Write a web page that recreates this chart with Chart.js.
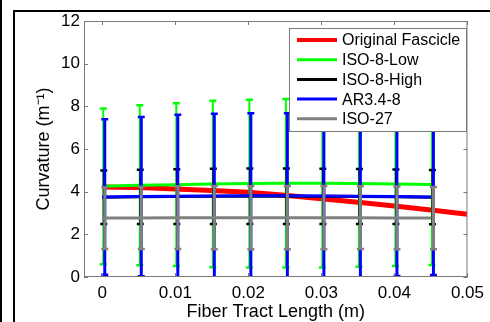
<!DOCTYPE html>
<html>
<head>
<meta charset="utf-8">
<script src="https://cdn.jsdelivr.net/npm/chart.js@4.4.0/dist/chart.umd.min.js"></script>
<style>
  html, body { margin: 0; padding: 0; background: #fff; }
  #wrap { width: 490px; height: 322px; }
</style>
</head>
<body>
<div id="wrap"><canvas id="c" width="490" height="322"></canvas></div>
<script>

// sample positions along the tract (m)
const tractX = [0, 0.005, 0.01, 0.015, 0.02, 0.025, 0.03, 0.035, 0.04, 0.045];

// original fascicle curvature (no error bars)
const fascicleX = [0, 0.005, 0.01, 0.015, 0.02, 0.025, 0.03, 0.035, 0.04, 0.045, 0.05];
const fascicleY = [4.22, 4.19, 4.13, 4.06, 3.97, 3.83, 3.67, 3.5, 3.33, 3.14, 2.94];

// mean +- error for each simulated tract
const isoLowMean  = [4.25, 4.3, 4.33, 4.36, 4.38, 4.39, 4.39, 4.38, 4.36, 4.34];
const isoLowErr   = [3.65, 3.75, 3.82, 3.9, 3.93, 3.95, 3.94, 3.9, 3.84, 3.78];
const isoHighMean = [3.74, 3.76, 3.77, 3.78, 3.79, 3.79, 3.78, 3.77, 3.76, 3.74];
const isoHighErr  = [1.25, 1.27, 1.28, 1.29, 1.3, 1.3, 1.3, 1.29, 1.28, 1.27];
const arMean      = [3.75, 3.77, 3.79, 3.8, 3.81, 3.81, 3.8, 3.79, 3.77, 3.75];
const arErr       = [3.65, 3.73, 3.81, 3.85, 3.87, 3.86, 3.85, 3.82, 3.72, 3.66];
const iso27Mean   = [2.76, 2.77, 2.78, 2.78, 2.78, 2.78, 2.78, 2.78, 2.77, 2.76];
const iso27Err    = [1.45, 1.46, 1.47, 1.48, 1.48, 1.48, 1.48, 1.47, 1.47, 1.46];

const seriesNames = ['Original Fascicle', 'ISO-8-Low', 'ISO-8-High', 'AR3.4-8', 'ISO-27'];

// axes
const xTicks = [0, 0.01, 0.02, 0.03, 0.04, 0.05];
const xTickLabels = ['0', '0.01', '0.02', '0.03', '0.04', '0.05'];
const yTicks = [0, 2, 4, 6, 8, 10, 12];

const pts = (xs, ys) => xs.map((x, i) => ({ x: x, y: ys[i] }));

Chart.defaults.font.family = "'Liberation Sans', Arial, sans-serif";
Chart.defaults.color = '#000';

// draws vertical error bars right after their own dataset, so stacking follows the series order
const errorBars = {
    id: 'errorBars',
    afterDatasetDraw (chart, args) {
        const ds = chart.data.datasets[args.index];
        if (!ds.errors) return;
        const ctx = chart.ctx;
        const sx = chart.scales.x, sy = chart.scales.y;
        const ca = chart.chartArea;
        ctx.save();
        ctx.beginPath();
        ctx.rect(ca.left, ca.top, ca.right - ca.left, ca.bottom - ca.top);
        ctx.clip();
        ctx.strokeStyle = ds.borderColor;
        const caps = [];
        ctx.lineWidth = ds.stemWidth;
        ds.data.forEach((p, i) => {
            const px = sx.getPixelForValue(p.x) + ds.stemShift;
            const top = sy.getPixelForValue(p.y + ds.errors[i]);
            const bot = sy.getPixelForValue(p.y - ds.errors[i]);
            ctx.beginPath();
            ctx.moveTo(px, top);
            ctx.lineTo(px, bot);
            ctx.stroke();
            caps.push([px, top], [px, bot]);
        });
        ctx.lineWidth = 2.5;
        for (const [px, py] of caps) {
            ctx.beginPath();
            ctx.moveTo(px - ds.capHalf, py);
            ctx.lineTo(px + ds.capHalf, py);
            ctx.stroke();
        }
        ctx.restore();
    }
};

// figure frame, axes box with inward ticks, and the boxed legend
const frame = {
    id: 'frame',
    beforeDraw (chart) {
        const ctx = chart.ctx;
        ctx.save();
        ctx.fillStyle = '#fff';
        ctx.fillRect(0, 0, chart.width, chart.height);
        ctx.fillStyle = '#000';
        ctx.fillRect(0, 0, 2, chart.height);
        ctx.fillRect(13, 10, 2, chart.height - 10);
        ctx.fillRect(13, 10, chart.width - 13, 2);
        ctx.restore();
    },
    afterDraw (chart) {
        const ctx = chart.ctx;
        const ca = chart.chartArea;
        const sx = chart.scales.x, sy = chart.scales.y;
        ctx.save();
        ctx.strokeStyle = '#7a7a7a';
        ctx.lineWidth = 1;
        ctx.strokeRect(ca.left + 0.5, ca.top + 0.5, ca.right - ca.left - 1, ca.bottom - ca.top - 1);
        ctx.beginPath();
        for (const v of xTicks) {
            const px = Math.round(sx.getPixelForValue(v)) + 0.5;
            ctx.moveTo(px, ca.bottom); ctx.lineTo(px, ca.bottom - 4);
            ctx.moveTo(px, ca.top); ctx.lineTo(px, ca.top + 4);
        }
        for (const v of yTicks) {
            const py = Math.round(sy.getPixelForValue(v)) + 0.5;
            ctx.moveTo(ca.left, py); ctx.lineTo(ca.left + 4, py);
            ctx.moveTo(ca.right, py); ctx.lineTo(ca.right - 4, py);
        }
        ctx.stroke();

        // legend
        const lx = 289, ly = 28, lw = 177, lh = 103;
        ctx.fillStyle = '#fff';
        ctx.fillRect(lx, ly, lw, lh);
        ctx.strokeStyle = '#7a7a7a';
        ctx.strokeRect(lx + 0.5, ly + 0.5, lw, lh);
        ctx.font = "16px 'Liberation Sans', Arial, sans-serif";
        ctx.textBaseline = 'middle';
        ctx.textAlign = 'left';
        chart.data.datasets.forEach((ds, i) => {
            const y = ly + 12 + i * 19.7;
            ctx.strokeStyle = ds.borderColor;
            ctx.lineWidth = i === 0 ? 4 : 3;
            ctx.beginPath();
            ctx.moveTo(lx + 8, y);
            ctx.lineTo(lx + 48, y);
            ctx.stroke();
            ctx.fillStyle = '#000';
            ctx.fillText(ds.label, lx + 53, y + 1);
        });
        ctx.restore();
    }
};

function errSeries (label, color, mean, err, stemWidth, stemShift, order) {
    return {
        label: label,
        data: pts(tractX, mean),
        errors: err,
        borderColor: color,
        backgroundColor: color,
        borderWidth: 3,
        pointRadius: 0,
        showLine: true,
        stemWidth: stemWidth,
        stemShift: stemShift,
        capHalf: 3.5,
        order: order
    };
}

new Chart(document.getElementById('c'), {
    type: 'scatter',
    data: {
        datasets: [
            {
                label: seriesNames[0],
                data: pts(fascicleX, fascicleY),
                borderColor: '#ff0000',
                backgroundColor: '#ff0000',
                borderWidth: 5,
                pointRadius: 0,
                showLine: true,
                order: 5
            },
            errSeries(seriesNames[1], '#00ff00', isoLowMean, isoLowErr, 2, 1, 4),
            errSeries(seriesNames[2], '#000000', isoHighMean, isoHighErr, 2, 1.5, 3),
            errSeries(seriesNames[3], '#0000ff', arMean, arErr, 3, 2.5, 2),
            errSeries(seriesNames[4], '#808080', iso27Mean, iso27Err, 3, 2.5, 1)
        ]
    },
    options: {
        responsive: false,
        animation: false,
        layout: { padding: { left: 0, top: 21, right: 18, bottom: 0 } },
        plugins: { legend: { display: false }, tooltip: { enabled: false } },
        scales: {
            x: {
                type: 'linear',
                min: -0.0025,
                max: 0.05,
                afterBuildTicks: s => { s.ticks = xTicks.map(v => ({ value: v })); },
                afterFit: s => { s.height = 45; },
                grid: { display: false, drawTicks: false },
                border: { display: false },
                ticks: {
                    padding: 6,
                    maxRotation: 0,
                    autoSkip: false,
                    font: { size: 17 },
                    callback: v => xTickLabels[xTicks.indexOf(v)]
                },
                title: {
                    display: true,
                    text: 'Fiber Tract Length (m)',
                    font: { size: 18, lineHeight: 1.1 },
                    padding: { top: 0, bottom: 0 }
                }
            },
            y: {
                min: 0,
                max: 12,
                afterBuildTicks: s => { s.ticks = yTicks.map(v => ({ value: v })); },
                afterFit: s => { s.width = 84; },
                grid: { display: false, drawTicks: false },
                border: { display: false },
                ticks: { padding: 4, font: { size: 17 } },
                title: {
                    display: true,
                    text: 'Curvature (m\u207B\u00B9)',
                    font: { size: 18 },
                    padding: { top: 33, bottom: 0 }
                }
            }
        }
    },
    plugins: [errorBars, frame]
});
</script>
</body>
</html>
